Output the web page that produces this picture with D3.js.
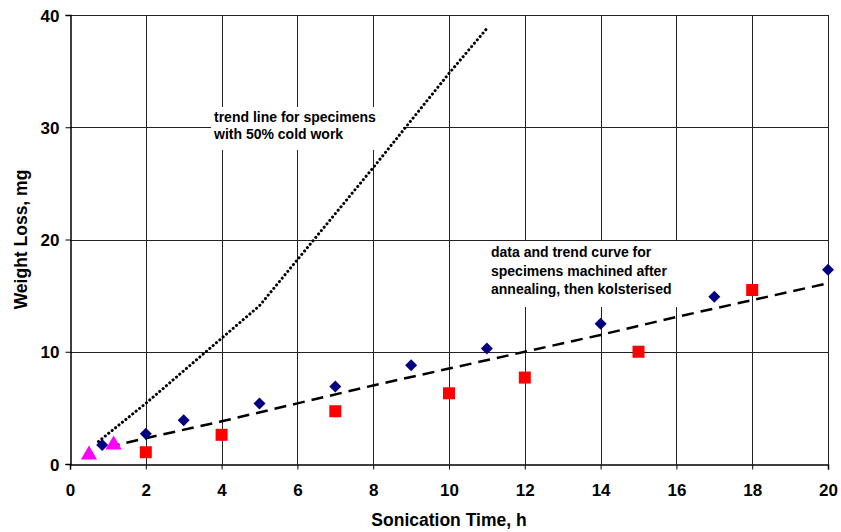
<!DOCTYPE html>
<html>
<head>
<meta charset="utf-8">
<script src="https://cdn.jsdelivr.net/npm/d3@7"></script>
<style>
  body { margin: 0; background: #fff; }
  text { font-family: "Liberation Sans", Arial, sans-serif; font-weight: bold; }
</style>
</head>
<body>
<svg id="chart"></svg>
<script>
// data
const xTicks = [0, 2, 4, 6, 8, 10, 12, 14, 16, 18, 20];
const yTicks = [0, 10, 20, 30, 40];

const diamondX = [0.85, 2, 3, 5, 7, 9, 11, 14, 17, 20];
const diamondY = [1.7, 2.7, 3.9, 5.4, 6.9, 8.8, 10.3, 12.5, 14.9, 17.3];

const squareX = [2, 4, 7, 10, 12, 15, 18];
const squareY = [1.05, 2.6, 4.7, 6.3, 7.7, 10.0, 15.5];

const triangleX = [0.5, 1.15];
const triangleY = [0.9, 1.8];

const dashX = [1, 2, 4, 6, 8, 10, 12, 14, 16, 18, 20];
const dashY = [1.5, 2.3, 3.8, 5.4, 7.0, 8.5, 10.0, 11.5, 13.1, 14.6, 16.1];

const dotX = [0.75, 2, 5, 6, 8, 10, 11];
const dotY = [2.0, 5.4, 14.1, 18.2, 26.4, 34.8, 38.8];

const note1 = ["trend line for specimens", "with 50% cold work"];
const note2 = ["data and trend curve for", "specimens machined after", "annealing, then kolsterised"];

const width = 841, height = 532;
const margin = { top: 15, right: 13, bottom: 68, left: 70 };

const svg = d3.select('#chart')
  .attr('width', width)
  .attr('height', height);

const x = d3.scaleLinear().domain([0, 20]).range([margin.left, width - margin.right]);
const y = d3.scaleLinear().domain([0, 40]).range([height - margin.bottom, margin.top]);

const zip = (xs, ys) => xs.map((v, i) => [v, ys[i]]);

// grid
svg.append('g')
  .selectAll('line.vx')
  .data(xTicks.slice(1))
  .enter().append('line')
  .attr('x1', d => Math.round(x(d)) + 0.5).attr('x2', d => Math.round(x(d)) + 0.5)
  .attr('y1', y(0)).attr('y2', y(40))
  .attr('stroke', '#222').attr('stroke-width', 1);

svg.append('g')
  .selectAll('line.hy')
  .data(yTicks.slice(1))
  .enter().append('line')
  .attr('x1', x(0)).attr('x2', x(20))
  .attr('y1', d => Math.round(y(d)) + 0.5).attr('y2', d => Math.round(y(d)) + 0.5)
  .attr('stroke', '#222').attr('stroke-width', 1);

// white boxes behind the notes
svg.append('rect')
  .attr('x', 211).attr('y', 107).attr('width', 192).attr('height', 43)
  .attr('fill', '#fff');
svg.append('rect')
  .attr('x', 485).attr('y', 241).attr('width', 200).attr('height', 66)
  .attr('fill', '#fff');

// axes
const xAxis = svg.append('g')
  .attr('transform', `translate(0,${Math.round(y(0)) + 0.5})`)
  .call(d3.axisBottom(x).tickValues(xTicks).tickSize(5).tickPadding(14));
const yAxis = svg.append('g')
  .attr('transform', `translate(${Math.round(x(0)) + 0.5},0)`)
  .call(d3.axisLeft(y).tickValues(yTicks).tickSize(5).tickPadding(6));

[xAxis, yAxis].forEach(a => {
  a.select('.domain').attr('stroke', '#000').attr('stroke-width', 1.5);
  a.selectAll('.tick line').attr('stroke', '#000');
  a.selectAll('.tick text')
    .attr('fill', '#000')
    .style('font-size', '17px')
    .style('font-weight', 'bold')
    .style('font-family', '"Liberation Sans", Arial, sans-serif');
});
yAxis.selectAll('.tick text').attr('dy', '0.36em');

// trend lines
const line = d3.line().x(d => x(d[0])).y(d => y(d[1]));

svg.append('path')
  .attr('d', line(zip(dotX, dotY)))
  .attr('fill', 'none')
  .attr('stroke', '#000')
  .attr('stroke-width', 3)
  .attr('stroke-linecap', 'round')
  .attr('stroke-dasharray', '0.1 4.3');

svg.append('path')
  .attr('d', line(d3.zip(dashX, dashY)))
  .attr('fill', 'none')
  .attr('stroke', '#000')
  .attr('stroke-width', 2.5)
  .attr('stroke-dasharray', '12 7');

// markers
svg.append('g').selectAll('path')
  .data(zip(diamondX, diamondY))
  .enter().append('path')
  .attr('d', d3.symbol(d3.symbolSquare, 72))
  .attr('transform', d => `translate(${x(d[0])},${y(d[1])}) rotate(45)`)
  .attr('fill', '#000080');

svg.append('g').selectAll('rect')
  .data(zip(squareX, squareY))
  .enter().append('rect')
  .attr('x', d => x(d[0]) - 6).attr('y', d => y(d[1]) - 6)
  .attr('width', 12).attr('height', 12)
  .attr('fill', '#ff0000');

svg.append('g').selectAll('path')
  .data(zip(triangleX, triangleY))
  .enter().append('path')
  .attr('d', d3.symbol(d3.symbolTriangle, 115))
  .attr('transform', d => `translate(${x(d[0])},${y(d[1]) + 1})`)
  .attr('fill', '#ff00ff');

// notes
svg.append('text')
  .attr('x', 214).attr('y', 122)
  .style('font-size', '14px')
  .selectAll('tspan')
  .data(note1)
  .enter().append('tspan')
  .attr('x', 214)
  .attr('dy', (d, i) => i === 0 ? 0 : 17)
  .text(d => d);

svg.append('text')
  .attr('x', 491).attr('y', 257)
  .style('font-size', '14px')
  .selectAll('tspan')
  .data(note2)
  .enter().append('tspan')
  .attr('x', 491)
  .attr('dy', (d, i) => i === 0 ? 0 : 18.5)
  .text(d => d);

// axis titles
svg.append('text')
  .attr('x', (x(0) + x(20)) / 2)
  .attr('y', 526)
  .attr('text-anchor', 'middle')
  .style('font-size', '17.5px')
  .text('Sonication Time, h');

svg.append('text')
  .attr('transform', `translate(27,${y(20)}) rotate(-90)`)
  .attr('text-anchor', 'middle')
  .style('font-size', '17.5px')
  .text('Weight Loss, mg');
</script>
</body>
</html>
